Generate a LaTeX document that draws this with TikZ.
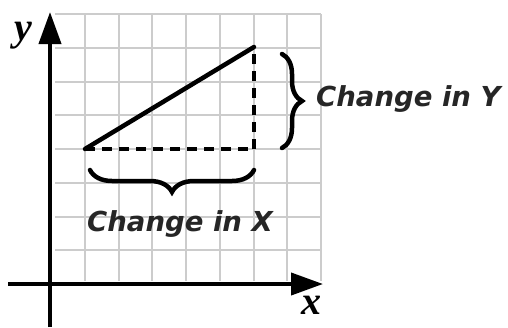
\documentclass[tikz,border=0pt]{standalone}
\usepackage{fontspec}
\setmainfont{DejaVu Sans}
\usetikzlibrary{decorations.pathreplacing,arrows.meta}
\begin{document}
\begin{tikzpicture}[x=1pt,y=-1pt,
  gridline/.style={draw=black!20,line width=2pt},
  axis/.style={line width=4pt,-{Triangle[length=32pt,width=22pt]}},
  dash line/.style={line width=4.5pt,dash pattern=on 10pt off 7pt},
  bracestyle/.style={line width=4.5pt,line cap=round,decorate,decoration={brace,amplitude=#1}},
  lab/.style={font=\fontsize{27.5}{30}\selectfont\bfseries\itshape,inner sep=0pt,text=black!85},
  axlab/.style={font=\fontspec{Liberation Serif}\fontsize{40}{42}\selectfont\bfseries\itshape,inner sep=0pt}]
\useasboundingbox (0,0) rectangle (508,327);
% grid
\foreach \i in {0,...,7} \draw[gridline] ({85+\i*33.7},14) -- ({85+\i*33.7},281);
\foreach \j in {0,...,7} \draw[gridline] (55,{14+\j*33.75}) -- (321,{14+\j*33.75});
% axes
\coordinate (ybot) at (50,327);
\coordinate (ytop) at (50,12);
\coordinate (xleft) at (8,284);
\coordinate (xright) at (323,284);
\draw[axis] (ybot) -- (ytop);
\draw[axis] (xleft) -- (xright);
\node[axlab] (ylab) at (23,36) {y};
\node[axlab] (xlab) at (311,305) {x};
% triangle
\coordinate (A) at (85,149);
\coordinate (B) at (254,47);
\coordinate (C) at (254,149);
\draw[line width=4.5pt,line cap=round] (A) -- (B);
\draw[dash line] (A) -- (C);
\draw[dash line] (C) -- (B);
% braces
\draw[bracestyle=20pt] (282,54) -- (282,148);
\draw[bracestyle=22pt] (254,170) -- (90,170);
\node[lab,anchor=west] (cy) at (316,99) {Change in Y};
\node[lab] (cx) at (180,224) {Change in X};
\end{tikzpicture}
\end{document}
